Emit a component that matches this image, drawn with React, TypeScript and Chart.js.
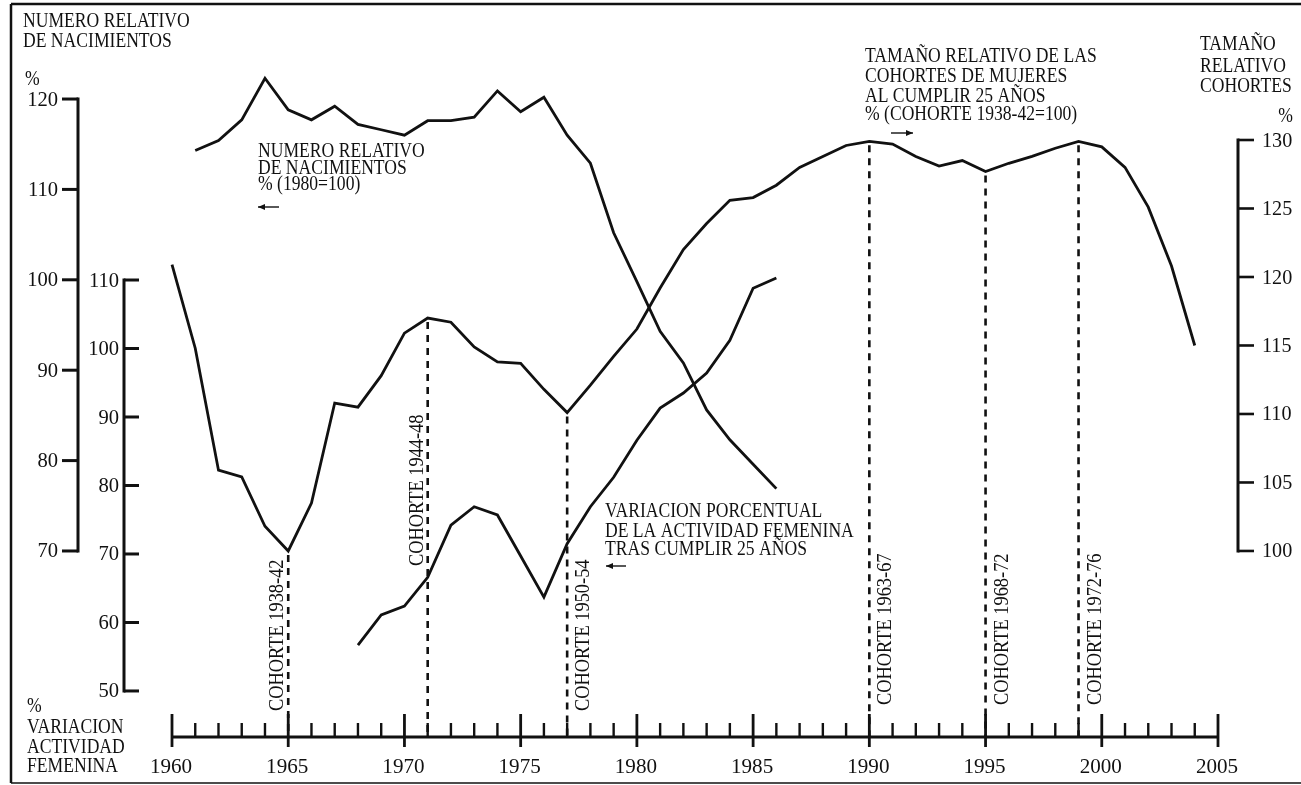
import React, { useEffect, useRef } from 'react';
import { Chart, registerables } from 'chart.js';

Chart.register(...registerables);

// ---------- data ----------
const birthYears = [1961, 1962, 1963, 1964, 1965, 1966, 1967, 1968, 1969, 1970, 1971, 1972, 1973, 1974, 1975, 1976, 1977, 1978, 1979, 1980, 1981, 1982, 1983, 1984, 1985, 1986];
const births = [114.3, 115.4, 117.7, 122.3, 118.8, 117.7, 119.2, 117.2, 116.6, 116.0, 117.6, 117.6, 118.0, 120.9, 118.6, 120.2, 116.0, 112.9, 105.2, 99.8, 94.3, 90.8, 85.6, 82.3, 79.6, 76.9];

const cohortYears = [1960, 1961, 1962, 1963, 1964, 1965, 1966, 1967, 1968, 1969, 1970, 1971, 1972, 1973, 1974, 1975, 1976, 1977, 1978, 1979, 1980, 1981, 1982, 1983, 1984, 1985, 1986, 1987, 1988, 1989, 1990, 1991, 1992, 1993, 1994, 1995, 1996, 1997, 1998, 1999, 2000, 2001, 2002, 2003, 2004];
const cohortSize = [120.9, 114.8, 105.9, 105.4, 101.8, 100.0, 103.5, 110.8, 110.5, 112.8, 115.9, 117.0, 116.7, 114.9, 113.8, 113.7, 111.8, 110.1, 112.1, 114.2, 116.2, 119.2, 122.0, 123.9, 125.6, 125.8, 126.7, 128.0, 128.8, 129.6, 129.9, 129.7, 128.8, 128.1, 128.5, 127.7, 128.3, 128.8, 129.4, 129.9, 129.5, 128.0, 125.1, 120.8, 115.0];

const activityYears = [1968, 1969, 1970, 1971, 1972, 1973, 1974, 1975, 1976, 1977, 1978, 1979, 1980, 1981, 1982, 1983, 1984, 1985, 1986];
const activity = [56.7, 61.1, 62.4, 66.6, 74.2, 76.9, 75.7, 69.7, 63.7, 71.5, 76.9, 81.2, 86.6, 91.3, 93.5, 96.4, 101.2, 108.8, 110.3];

const cohortMarkYears = [1965, 1971, 1977, 1990, 1995, 1999];
const cohortMarkLabels = ['COHORTE 1938-42', 'COHORTE 1944-48', 'COHORTE 1950-54', 'COHORTE 1963-67', 'COHORTE 1968-72', 'COHORTE 1972-76'];

const birthTicks = [70, 80, 90, 100, 110, 120];
const activityTicks = [50, 60, 70, 80, 90, 100, 110];
const cohortTicks = [100, 105, 110, 115, 120, 125, 130];
const yearLabels = [1960, 1965, 1970, 1975, 1980, 1985, 1990, 1995, 2000, 2005];

// ---------- drawing helpers ----------
const FONT = '"Liberation Serif", "DejaVu Serif", serif';
const INK = '#111';

function txt(ctx: CanvasRenderingContext2D, s: string, x: number, y: number, size: number, align: CanvasTextAlign = 'left', base: CanvasTextBaseline = 'alphabetic', sx = 1) {
  ctx.save();
  ctx.font = `${size}px ${FONT}`;
  ctx.textAlign = align;
  ctx.textBaseline = base;
  ctx.fillStyle = INK;
  ctx.translate(x, y);
  ctx.scale(sx, 1);
  ctx.fillText(s, 0, 0);
  ctx.restore();
}

function line(ctx: CanvasRenderingContext2D, x1: number, y1: number, x2: number, y2: number, w: number) {
  ctx.lineWidth = w;
  ctx.strokeStyle = INK;
  ctx.beginPath();
  ctx.moveTo(x1, y1);
  ctx.lineTo(x2, y2);
  ctx.stroke();
}

function arrow(ctx: CanvasRenderingContext2D, x1: number, x2: number, y: number) {
  line(ctx, x1, y, x2, y, 1.4);
  const d = x2 > x1 ? -1 : 1;
  ctx.fillStyle = INK;
  ctx.beginPath();
  ctx.moveTo(x2, y);
  ctx.lineTo(x2 + d * 7, y - 3);
  ctx.lineTo(x2 + d * 7, y + 3);
  ctx.closePath();
  ctx.fill();
}

const T = 20; // annotation font size
const SX = 0.88; // condensed typeset look

const overlay = {
  id: 'overlay',
  afterDraw(chart: any) {
    const ctx: CanvasRenderingContext2D = chart.ctx;
    const xs = chart.scales.x;
    const yb = chart.scales.yB;
    const ya = chart.scales.yA;
    const yc = chart.scales.yC;
    const axisY = chart.chartArea.bottom;
    ctx.save();
    ctx.lineCap = 'butt';

    // frame
    line(ctx, 11, 4, 1301, 4, 2.5);
    line(ctx, 11, 4, 11, 783, 2.5);
    line(ctx, 11, 783, 1301, 783, 1.6);

    // dashed cohort markers
    ctx.setLineDash([7, 6]);
    cohortMarkYears.forEach((yr) => {
      const i = cohortYears.indexOf(yr);
      const px = xs.getPixelForValue(yr);
      line(ctx, px, yc.getPixelForValue(cohortSize[i]) + 4, px, axisY, 2.6);
    });
    ctx.setLineDash([]);

    // cohort marker labels (rotated)
    cohortMarkYears.forEach((yr, k) => {
      const px = xs.getPixelForValue(yr);
      const left = k < 2;
      const bx = left ? px - 5 : px + 22;
      const startY = k === 1 ? 566 : k < 3 ? 711 : 705;
      ctx.save();
      ctx.translate(bx, startY);
      ctx.rotate(-Math.PI / 2);
      txt(ctx, cohortMarkLabels[k], 0, 0, 21, 'left', 'alphabetic', 0.875);
      ctx.restore();
    });

    // x axis
    const x0 = xs.getPixelForValue(1960);
    const x1 = xs.getPixelForValue(2005);
    line(ctx, x0, axisY, x1, axisY, 3);
    for (let yr = 1960; yr <= 2005; yr++) {
      const px = xs.getPixelForValue(yr);
      if (yr % 5 === 0) line(ctx, px, axisY - 23, px, axisY + 10, 2.8);
      else line(ctx, px, axisY - 14, px, axisY, 2.4);
    }
    yearLabels.forEach((yr) => txt(ctx, String(yr), xs.getPixelForValue(yr) - 1, 773, 22, 'center', 'alphabetic', 0.96));

    // births axis (outer left)
    const bX = 78;
    line(ctx, bX, yb.getPixelForValue(120) - 1.5, bX, yb.getPixelForValue(70) + 1.5, 3);
    birthTicks.forEach((v) => {
      const py = yb.getPixelForValue(v);
      line(ctx, bX - 16, py, bX, py, 3);
      txt(ctx, String(v), bX - 20, py + 1, 21, 'right', 'middle', 0.98);
    });

    // activity axis (inner left)
    const aX = 124;
    line(ctx, aX, ya.getPixelForValue(110) - 1.5, aX, ya.getPixelForValue(50) + 1.5, 3);
    activityTicks.forEach((v) => {
      const py = ya.getPixelForValue(v);
      line(ctx, aX, py, aX + 15, py, 3);
      txt(ctx, String(v), aX - 5, py + 1, 21, 'right', 'middle', 0.98);
    });

    // cohort axis (right)
    const cX = 1238;
    line(ctx, cX, yc.getPixelForValue(130) - 1.5, cX, yc.getPixelForValue(100) + 1.5, 3);
    cohortTicks.forEach((v) => {
      const py = yc.getPixelForValue(v);
      line(ctx, cX, py, cX + 16, py, 2.6);
      txt(ctx, String(v), cX + 24, py + 1, 21, 'left', 'middle', 0.96);
    });

    // axis titles
    txt(ctx, 'NUMERO RELATIVO', 23, 27, T, 'left', 'alphabetic', SX);
    txt(ctx, 'DE NACIMIENTOS', 23, 47, T, 'left', 'alphabetic', SX);
    txt(ctx, '%', 25, 85, T, 'left', 'alphabetic', SX);

    txt(ctx, '%', 27, 712, T, 'left', 'alphabetic', SX);
    txt(ctx, 'VARIACION', 27, 733, T, 'left', 'alphabetic', SX);
    txt(ctx, 'ACTIVIDAD', 27, 753, T, 'left', 'alphabetic', SX);
    txt(ctx, 'FEMENINA', 27, 772, T, 'left', 'alphabetic', SX);

    txt(ctx, 'TAMAÑO', 1200, 50, T, 'left', 'alphabetic', SX);
    txt(ctx, 'RELATIVO', 1200, 72, T, 'left', 'alphabetic', SX);
    txt(ctx, 'COHORTES', 1200, 92, T, 'left', 'alphabetic', SX);
    txt(ctx, '%', 1293, 122, T, 'right', 'alphabetic', SX);

    // series annotations
    txt(ctx, 'NUMERO RELATIVO', 258, 157, T, 'left', 'alphabetic', SX);
    txt(ctx, 'DE NACIMIENTOS', 258, 174, T, 'left', 'alphabetic', SX);
    txt(ctx, '% (1980=100)', 258, 190, T, 'left', 'alphabetic', SX);
    arrow(ctx, 279, 258, 207);

    txt(ctx, 'TAMAÑO RELATIVO DE LAS', 865, 62, T, 'left', 'alphabetic', SX);
    txt(ctx, 'COHORTES DE MUJERES', 865, 82, T, 'left', 'alphabetic', SX);
    txt(ctx, 'AL CUMPLIR 25 AÑOS', 865, 102, T, 'left', 'alphabetic', SX);
    txt(ctx, '% (COHORTE 1938-42=100)', 865, 120, T, 'left', 'alphabetic', SX);
    arrow(ctx, 891, 913, 133);

    txt(ctx, 'VARIACION PORCENTUAL', 605, 517, T, 'left', 'alphabetic', SX);
    txt(ctx, 'DE LA ACTIVIDAD FEMENINA', 605, 537, T, 'left', 'alphabetic', SX);
    txt(ctx, 'TRAS CUMPLIR 25 AÑOS', 605, 555, T, 'left', 'alphabetic', SX);
    arrow(ctx, 626, 606, 566);

    ctx.restore();
  },
};

export default function App() {
  const ref = useRef<HTMLCanvasElement | null>(null);

  useEffect(() => {
    if (!ref.current) return;
    const common = {
      borderColor: '#111',
      borderWidth: 2.8,
      pointRadius: 0,
      fill: false,
      tension: 0,
      clip: false as any,
    };
    const chart = new Chart(ref.current, {
      type: 'line',
      data: {
        datasets: [
          { ...common, label: 'Número relativo de nacimientos', yAxisID: 'yB', data: births.map((v, i) => ({ x: birthYears[i], y: v })) },
          { ...common, label: 'Tamaño relativo de las cohortes', yAxisID: 'yC', data: cohortSize.map((v, i) => ({ x: cohortYears[i], y: v })) },
          { ...common, label: 'Variación actividad femenina', yAxisID: 'yA', data: activity.map((v, i) => ({ x: activityYears[i], y: v })) },
        ],
      },
      options: {
        animation: false,
        responsive: true,
        maintainAspectRatio: false,
        devicePixelRatio: 1,
        layout: { padding: { left: 172, right: 83, top: 40, bottom: 48 } },
        plugins: { legend: { display: false }, tooltip: { enabled: false } },
        scales: {
          x: { type: 'linear', min: 1960, max: 2005, display: false },
          yB: { type: 'linear', min: 49.42, max: 126.53, display: false },
          yA: { type: 'linear', min: 43.28, max: 145.04, display: false },
          yC: { type: 'linear', min: 86.42, max: 137.3, display: false },
        },
      } as any,
      plugins: [overlay],
    });
    return () => chart.destroy();
  }, []);

  return (
    <div style={{ position: 'absolute', left: 0, top: 0, width: 1301, height: 785, background: '#fff' }}>
      <canvas ref={ref} />
    </div>
  );
}
